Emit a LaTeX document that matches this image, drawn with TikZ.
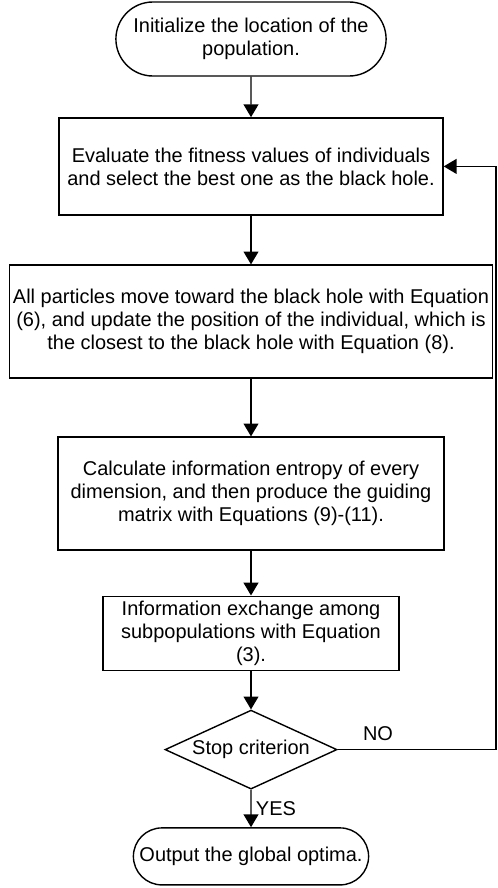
\documentclass[tikz,border=0pt]{standalone}
\usepackage{fontspec}
\setmainfont{Liberation Sans}
\usetikzlibrary{shapes.misc,shapes.geometric,arrows.meta}

\begin{document}
\begin{tikzpicture}[>={Triangle[length=0.32cm,width=0.37cm]}, line width=1pt,
    every node/.style={font=\fontsize{14.2}{16.35}\selectfont, align=center, inner sep=1pt},
    procbox/.style={draw, rectangle},
    termbox/.style={draw, rounded rectangle},
    decide/.style={draw, diamond, aspect=2.2}]
    % Frame
    \useasboundingbox (0,0) rectangle (12.45,-22.2);

    % Definitions
    \def\midX{6.275}

    % Start and end
    \node[termbox, minimum width=6.825cm, minimum height=1.85cm] (init) at (\midX,-0.975)
        {Initialize the location of the\\population.};
    \node[termbox, minimum width=5.95cm, minimum height=1.425cm] (output) at (\midX,-21.41)
        {Output the global optima.};

    % Process steps
    \node[procbox, minimum width=9.6cm, minimum height=2.425cm] (evaluate) at (\midX,-4.16)
        {Evaluate the fitness values of individuals\\and select the best one as the black hole.};
    \node[procbox, minimum width=12.075cm, minimum height=2.825cm] (move) at (\midX,-8.04)
        {All particles move toward the black hole with Equation\\(6), and update the position of the individual, which is\\the closest to the black hole with Equation (8).};
    \node[procbox, minimum width=9.65cm, minimum height=2.825cm] (entropy) at (\midX,-12.34)
        {Calculate information entropy of every\\dimension, and then produce the guiding\\matrix with Equations (9)-(11).};
    \node[procbox, minimum width=7.4cm, minimum height=1.85cm] (exchange) at (\midX,-15.83)
        {Information exchange among\\subpopulations with Equation\\(3).};

    % Decision
    \node[decide, minimum width=4.3cm, minimum height=1.975cm, inner sep=0pt] (stop) at (\midX,-18.74)
        {Stop criterion};

    % Arrows down the chain
    \draw[->] (init) -- (evaluate);
    \draw[->] (evaluate) -- (move);
    \draw[->] (move) -- (entropy);
    \draw[->] (entropy) -- (exchange);
    \draw[->] (exchange) -- (stop);
    \draw[->] (stop) -- (output) node[midway, right=2pt] (yes) {YES};

    % Loop back
    \coordinate (loop) at (12.4,0);
    \draw[->] (stop.east) -- (stop.east -| loop) -- (evaluate.east -| loop) -- (evaluate.east);
    \node (no) at (9.45,-18.33) {NO};
\end{tikzpicture}
\end{document}
